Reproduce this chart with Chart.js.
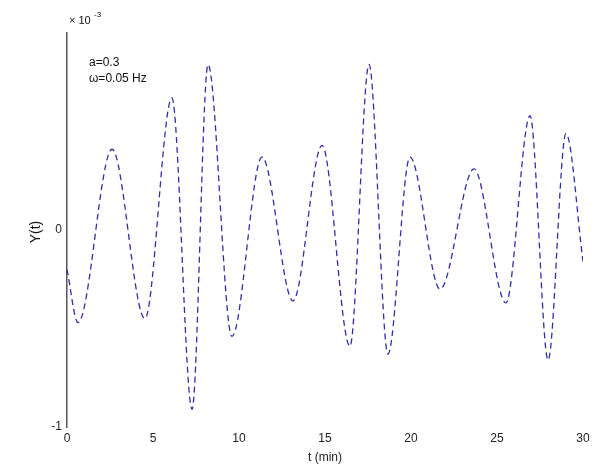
<!DOCTYPE html>
<html>
<head>
<meta charset="utf-8">
<script src="https://cdn.jsdelivr.net/npm/chart.js@4"></script>
<style>
  html, body { margin: 0; padding: 0; background: #fff; }
  #wrap { width: 602px; height: 469px; }
</style>
</head>
<body>
<div id="wrap"><canvas id="lineChart"></canvas></div>
<script>
// values (peaks / troughs of the response)
const times  = [0, 0.64, 2.62, 4.53, 6.10, 7.27, 8.20, 9.59, 11.34, 13.14, 14.83, 16.45, 17.56, 18.66, 19.94, 21.69, 23.66, 25.52, 26.92, 27.97, 29.01, 30]
const yvals  = [-0.20, -0.47, 0.41, -0.45, 0.67, -0.91, 0.84, -0.54, 0.37, -0.36, 0.43, -0.59, 0.84, -0.63, 0.37, -0.30, 0.31, -0.37, 0.58, -0.66, 0.49, -0.16]
const xTicks = [0, 5, 10, 15, 20, 25, 30]
const yTicks = [-1, 0, 1]
const notes  = ['a=0.3', 'ω=0.05 Hz']

let points = []
for (let i = 0; i < times.length; i++) {
    points = [...points, { x: times[i], y: yvals[i] }]
}

const labelFont = '"Liberation Sans", Arial, sans-serif'

const textPlugin = {
    id: 'notes',
    afterDraw(chart) {
        const ctx = chart.ctx
        ctx.save()
        ctx.fillStyle = '#111'
        ctx.font = '11px ' + labelFont
        ctx.textBaseline = 'middle'
        ctx.fillText('× 10', 69, 21)
        ctx.font = '8px ' + labelFont
        ctx.fillText('-3', 94, 15)
        ctx.font = '12px ' + labelFont
        ctx.fillText(notes[0], 89, 63)
        ctx.fillText(notes[1], 89, 79)
        // y axis label, rotated
        ctx.translate(36, 232)
        ctx.rotate(-Math.PI / 2)
        ctx.textAlign = 'center'
        ctx.font = '14px ' + labelFont
        ctx.fillText('Y(t)', 0, 0)
        ctx.restore()
    }
}

new Chart(document.getElementById('lineChart'), {
    type: 'line',
    data: {
        datasets: [{
            data: points,
            borderColor: '#2d2db4',
            borderWidth: 1.3,
            borderDash: [6, 4],
            pointRadius: 0,
            cubicInterpolationMode: 'monotone',
            fill: false
        }]
    },
    options: {
        responsive: true,
        maintainAspectRatio: false,
        animation: false,
        layout: { padding: { top: 33, right: 19, left: 0, bottom: 0 } },
        plugins: { legend: { display: false }, tooltip: { enabled: false } },
        scales: {
            x: {
                type: 'linear',
                min: 0,
                max: 30,
                afterBuildTicks: (axis) => { axis.ticks = xTicks.map(v => ({ value: v })) },
                afterFit: (axis) => { axis.height = 42 },
                grid: { display: false, drawTicks: false },
                border: { display: false },
                ticks: { color: '#222', font: { size: 12, family: labelFont }, padding: 4, maxRotation: 0 },
                title: { display: true, text: 't (min)', color: '#222', font: { size: 12, family: labelFont }, padding: { top: 0 } }
            },
            y: {
                min: -1,
                max: 1,
                afterBuildTicks: (axis) => { axis.ticks = yTicks.map(v => ({ value: v })) },
                afterFit: (axis) => { axis.width = 67 },
                grid: { display: false, drawTicks: false },
                border: { display: true, color: '#555', width: 1.5 },
                ticks: {
                    color: '#222',
                    font: { size: 12, family: labelFont },
                    padding: 5,
                    callback: (v) => v === 1 ? '' : v
                }
            }
        }
    },
    plugins: [textPlugin]
})
</script>
</body>
</html>
